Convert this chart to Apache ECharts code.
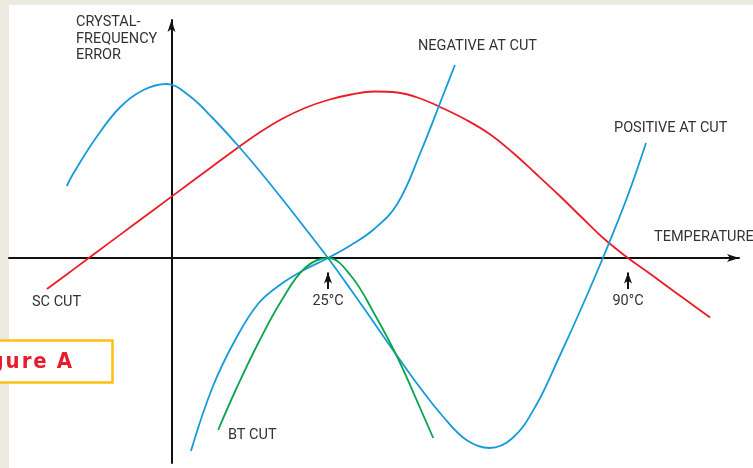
<!DOCTYPE html>
<html><head><meta charset="utf-8">
<script src="https://cdn.jsdelivr.net/npm/echarts@6/dist/echarts.min.js"></script>
<style>html,body{margin:0;padding:0;background:#fff;}#c{width:753px;height:468px;}</style>
</head><body><div id="c"></div>
<script>
// x: temperature (°C), y: relative crystal-frequency error (schematic units)
const scTemp  = [-35.9, -30, -25, -20, -15, -10, -5, 0, 5, 10, 15, 20, 25, 30, 35, 40, 45, 50, 55, 60, 65, 70, 75, 80, 85, 90, 95, 100, 105, 107.8];
const scError = [-3.1, -1.09, 0.63, 2.34, 4.05, 5.76, 7.47, 9.18, 10.88, 12.5, 13.9, 15.0, 15.8, 16.35, 16.65, 16.55, 15.95, 14.95, 13.8, 12.4, 10.55, 8.45, 6.3, 4.05, 1.85, 0, -1.65, -3.34, -5.02, -5.95];

const posTemp  = [-31.6, -30, -25, -20, -15, -10, -5, 0, 5, 10, 15, 20, 25, 30, 35, 40, 45, 50, 55, 60, 65, 70, 75, 80, 85, 90, 93.9];
const posError = [7.2, 8.6, 12.2, 15.1, 16.8, 17.4, 16.2, 14.0, 11.5, 8.8, 5.95, 3.0, 0, -3.2, -6.5, -9.8, -13.0, -15.9, -18.2, -19.0, -18.0, -14.8, -10.0, -4.9, 0.5, 6.3, 11.5];

const negTemp  = [-4.7, 0, 5, 10, 15, 20, 25, 30, 35, 40, 45, 50, 52.5];
const negError = [-19.3, -12.9, -8.1, -4.5, -2.55, -1.15, 0, 1.3, 2.9, 5.4, 10.5, 16.35, 19.3];

const btTemp  = [1.2, 5, 10, 15, 20, 25, 30, 35, 40, 45, 47.8];
const btError = [-17.2, -13.2, -8.4, -4.2, -1.0, 0, -1.8, -5.55, -9.9, -15.05, -18.0];

const cutTemps  = [25, 90];
const cutLabels = ['25°C', '90°C'];

const zip = (a, b) => a.map((v, i) => [v, b[i]]);

const FONT = 'Roboto';
const TXT = '#333333';
const BLUE = '#159bd9', RED = '#ec1c24', GREEN = '#0aa54c';

function curve(name, color, t, e) {
  return {
    name, type: 'line', data: zip(t, e), smooth: 0.4, showSymbol: false, symbol: 'none',
    lineStyle: { color, width: 1.8 }, silent: true, z: 3
  };
}

const chart = echarts.init(document.getElementById('c'), null, { renderer: 'canvas' });
const axisLineStyle = { color: '#111111', width: 2 };
chart.setOption({
  animation: false,
  backgroundColor: '#ffffff',
  grid: { left: 9, right: 14, top: 20, bottom: 5, containLabel: false, outerBoundsMode: 'none' },
  xAxis: {
    type: 'value', min: -44.12, max: 114.05,
    axisLine: { show: true, onZero: true, lineStyle: axisLineStyle, symbol: ['none', 'arrow'], symbolSize: [6, 12] },
    axisTick: { show: false }, axisLabel: { show: false }, splitLine: { show: false }
  },
  yAxis: {
    type: 'value', min: -20.5, max: 23.8, offset: -162.5,
    axisLine: { show: true, onZero: false, lineStyle: axisLineStyle, symbol: ['none', 'arrow'], symbolSize: [6, 12] },
    axisTick: { show: false }, axisLabel: { show: false }, splitLine: { show: false }
  },
  series: [
    curve('SC CUT', RED, scTemp, scError),
    curve('POSITIVE AT CUT', BLUE, posTemp, posError),
    curve('NEGATIVE AT CUT', BLUE, negTemp, negError),
    curve('BT CUT', GREEN, btTemp, btError),
    {
      name: 'cuts', type: 'line', data: cutTemps.map(t => [t, 0]), showSymbol: false, symbol: 'none',
      lineStyle: { width: 0, opacity: 0 }, silent: true, z: 4,
      markLine: {
        silent: true, animation: false,
        symbol: ['none', 'arrow'], symbolSize: [6, 11],
        lineStyle: { color: '#111111', width: 2, type: 'solid' },
        label: { show: true, position: 'start', distance: 5, formatter: '{b}', color: TXT, fontSize: 14.5, fontFamily: FONT },
        emphasis: { disabled: true },
        data: cutTemps.map((t, i) => [{ coord: [t, -3.1], name: cutLabels[i] }, { coord: [t, -1.45] }])
      }
    }
  ],
  graphic: [
    { type: 'rect', shape: { x: 0, y: 0, width: 9, height: 468 }, style: { fill: '#ece9df' }, silent: true, z: 0 },
    { type: 'rect', shape: { x: 0, y: 0, width: 753, height: 5 }, style: { fill: '#ece9df' }, silent: true, z: 0 },
    { type: 'text', x: 76, y: 14.5, style: { text: 'CRYSTAL-\nFREQUENCY\nERROR', fill: TXT, font: '14.5px ' + FONT, lineHeight: 16.5, textVerticalAlign: 'top' }, silent: true },
    { type: 'text', x: 418, y: 46.7, style: { text: 'NEGATIVE AT CUT', fill: TXT, font: '14.5px ' + FONT, textVerticalAlign: 'middle' }, silent: true },
    { type: 'text', x: 614, y: 128.3, style: { text: 'POSITIVE AT CUT', fill: TXT, font: '14.5px ' + FONT, textVerticalAlign: 'middle' }, silent: true },
    { type: 'text', x: 654, y: 237.5, style: { text: 'TEMPERATURE', fill: TXT, font: '14.5px ' + FONT, textVerticalAlign: 'middle' }, silent: true },
    { type: 'text', x: 32, y: 302.5, style: { text: 'SC CUT', fill: TXT, font: '14.5px ' + FONT, textVerticalAlign: 'middle' }, silent: true },
    { type: 'text', x: 228, y: 435.7, style: { text: 'BT CUT', fill: TXT, font: '14.5px ' + FONT, textVerticalAlign: 'middle' }, silent: true },
    { type: 'rect', shape: { x: -3, y: 340.5, width: 115.5, height: 42 }, style: { fill: '#ffffff', stroke: '#fdc010', lineWidth: 2.5 }, silent: true, z: 10 },
    { type: 'text', x: 72, y: 362, style: { text: 'F\u200Ai\u200Ag\u200Au\u200Ar\u200Ae\u2002A', fill: '#e41e2c', font: 'bold 22px "Liberation Sans Narrow", "DejaVu Sans Condensed", "Liberation Sans"', textAlign: 'right', textVerticalAlign: 'middle' }, silent: true, z: 11 }
  ]
});
</script></body></html>
